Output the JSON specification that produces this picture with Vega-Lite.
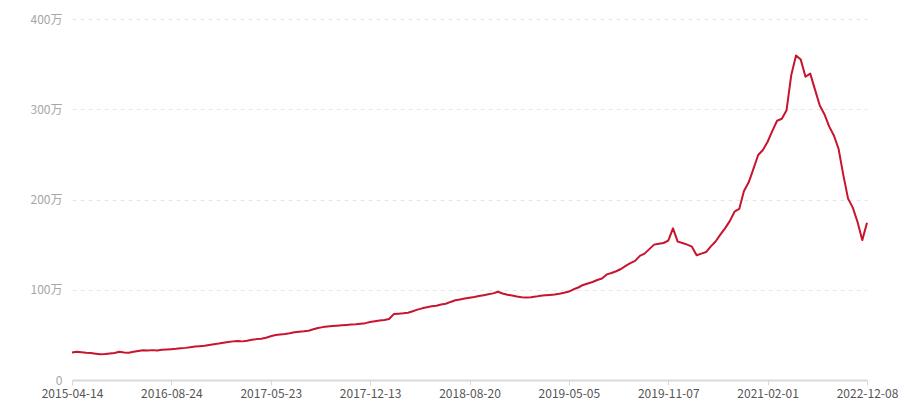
{
  "$schema": "https://vega.github.io/schema/vega-lite/v6.json",
  "autosize": {"type": "none"},
  "padding": {"left": 72, "top": 19, "right": 33, "bottom": 20},
  "width": 795,
  "height": 361,
  "background": "#ffffff",
  "data": {
    "values": [
      {"date": "2015-04-14", "value": 305000},
      {"date": "2015-05-08", "value": 312000},
      {"date": "2015-06-01", "value": 308000},
      {"date": "2015-06-25", "value": 302000},
      {"date": "2015-07-19", "value": 298000},
      {"date": "2015-08-12", "value": 292000},
      {"date": "2015-09-05", "value": 286000},
      {"date": "2015-09-29", "value": 288000},
      {"date": "2015-10-23", "value": 294000},
      {"date": "2015-11-16", "value": 300000},
      {"date": "2015-12-10", "value": 312000},
      {"date": "2016-01-03", "value": 306000},
      {"date": "2016-01-27", "value": 302000},
      {"date": "2016-02-20", "value": 312000},
      {"date": "2016-03-15", "value": 322000},
      {"date": "2016-04-08", "value": 330000},
      {"date": "2016-05-02", "value": 326000},
      {"date": "2016-05-26", "value": 331000},
      {"date": "2016-06-19", "value": 327000},
      {"date": "2016-07-13", "value": 334000},
      {"date": "2016-08-03", "value": 338000},
      {"date": "2016-08-24", "value": 342000},
      {"date": "2016-09-06", "value": 345000},
      {"date": "2016-09-19", "value": 351000},
      {"date": "2016-10-02", "value": 356000},
      {"date": "2016-10-15", "value": 363000},
      {"date": "2016-10-28", "value": 370000},
      {"date": "2016-11-10", "value": 375000},
      {"date": "2016-11-23", "value": 379000},
      {"date": "2016-12-06", "value": 389000},
      {"date": "2016-12-19", "value": 397000},
      {"date": "2017-01-01", "value": 404000},
      {"date": "2017-01-14", "value": 413000},
      {"date": "2017-01-27", "value": 420000},
      {"date": "2017-02-09", "value": 428000},
      {"date": "2017-02-22", "value": 433000},
      {"date": "2017-03-07", "value": 428000},
      {"date": "2017-03-20", "value": 435000},
      {"date": "2017-04-02", "value": 446000},
      {"date": "2017-04-15", "value": 453000},
      {"date": "2017-04-28", "value": 458000},
      {"date": "2017-05-11", "value": 468000},
      {"date": "2017-05-23", "value": 485000},
      {"date": "2017-06-02", "value": 498000},
      {"date": "2017-06-12", "value": 505000},
      {"date": "2017-06-22", "value": 510000},
      {"date": "2017-07-02", "value": 518000},
      {"date": "2017-07-12", "value": 528000},
      {"date": "2017-07-22", "value": 534000},
      {"date": "2017-08-01", "value": 539000},
      {"date": "2017-08-11", "value": 546000},
      {"date": "2017-08-21", "value": 562000},
      {"date": "2017-08-31", "value": 576000},
      {"date": "2017-09-10", "value": 586000},
      {"date": "2017-09-20", "value": 593000},
      {"date": "2017-09-30", "value": 598000},
      {"date": "2017-10-10", "value": 602000},
      {"date": "2017-10-20", "value": 606000},
      {"date": "2017-10-30", "value": 610000},
      {"date": "2017-11-09", "value": 614000},
      {"date": "2017-11-19", "value": 618000},
      {"date": "2017-11-27", "value": 624000},
      {"date": "2017-12-05", "value": 630000},
      {"date": "2017-12-13", "value": 643000},
      {"date": "2017-12-25", "value": 652000},
      {"date": "2018-01-06", "value": 658000},
      {"date": "2018-01-18", "value": 665000},
      {"date": "2018-01-30", "value": 676000},
      {"date": "2018-02-11", "value": 730000},
      {"date": "2018-02-23", "value": 735000},
      {"date": "2018-03-07", "value": 739000},
      {"date": "2018-03-19", "value": 746000},
      {"date": "2018-03-31", "value": 762000},
      {"date": "2018-04-12", "value": 780000},
      {"date": "2018-04-24", "value": 794000},
      {"date": "2018-05-06", "value": 806000},
      {"date": "2018-05-18", "value": 816000},
      {"date": "2018-05-30", "value": 823000},
      {"date": "2018-06-11", "value": 836000},
      {"date": "2018-06-23", "value": 845000},
      {"date": "2018-07-05", "value": 865000},
      {"date": "2018-07-17", "value": 883000},
      {"date": "2018-07-29", "value": 893000},
      {"date": "2018-08-09", "value": 902000},
      {"date": "2018-08-20", "value": 912000},
      {"date": "2018-09-01", "value": 920000},
      {"date": "2018-09-13", "value": 930000},
      {"date": "2018-09-25", "value": 940000},
      {"date": "2018-10-07", "value": 950000},
      {"date": "2018-10-19", "value": 960000},
      {"date": "2018-10-31", "value": 978000},
      {"date": "2018-11-12", "value": 958000},
      {"date": "2018-11-24", "value": 945000},
      {"date": "2018-12-06", "value": 936000},
      {"date": "2018-12-18", "value": 926000},
      {"date": "2018-12-30", "value": 918000},
      {"date": "2019-01-11", "value": 914000},
      {"date": "2019-01-23", "value": 918000},
      {"date": "2019-02-04", "value": 924000},
      {"date": "2019-02-16", "value": 934000},
      {"date": "2019-02-28", "value": 939000},
      {"date": "2019-03-12", "value": 943000},
      {"date": "2019-03-24", "value": 948000},
      {"date": "2019-04-05", "value": 956000},
      {"date": "2019-04-20", "value": 966000},
      {"date": "2019-05-05", "value": 980000},
      {"date": "2019-05-14", "value": 1005000},
      {"date": "2019-05-23", "value": 1025000},
      {"date": "2019-06-01", "value": 1053000},
      {"date": "2019-06-10", "value": 1070000},
      {"date": "2019-06-19", "value": 1086000},
      {"date": "2019-06-28", "value": 1108000},
      {"date": "2019-07-07", "value": 1125000},
      {"date": "2019-07-16", "value": 1170000},
      {"date": "2019-07-25", "value": 1186000},
      {"date": "2019-08-03", "value": 1205000},
      {"date": "2019-08-12", "value": 1230000},
      {"date": "2019-08-21", "value": 1265000},
      {"date": "2019-08-30", "value": 1295000},
      {"date": "2019-09-08", "value": 1320000},
      {"date": "2019-09-17", "value": 1375000},
      {"date": "2019-09-26", "value": 1400000},
      {"date": "2019-10-05", "value": 1450000},
      {"date": "2019-10-14", "value": 1500000},
      {"date": "2019-10-23", "value": 1510000},
      {"date": "2019-10-31", "value": 1518000},
      {"date": "2019-11-07", "value": 1544000},
      {"date": "2019-11-29", "value": 1680000},
      {"date": "2019-12-20", "value": 1533000},
      {"date": "2020-01-11", "value": 1518000},
      {"date": "2020-02-01", "value": 1500000},
      {"date": "2020-02-23", "value": 1477000},
      {"date": "2020-03-15", "value": 1382000},
      {"date": "2020-04-06", "value": 1400000},
      {"date": "2020-04-27", "value": 1418000},
      {"date": "2020-05-19", "value": 1480000},
      {"date": "2020-06-09", "value": 1535000},
      {"date": "2020-07-01", "value": 1610000},
      {"date": "2020-07-22", "value": 1680000},
      {"date": "2020-08-13", "value": 1760000},
      {"date": "2020-09-03", "value": 1865000},
      {"date": "2020-09-25", "value": 1895000},
      {"date": "2020-10-16", "value": 2095000},
      {"date": "2020-11-07", "value": 2190000},
      {"date": "2020-11-28", "value": 2340000},
      {"date": "2020-12-20", "value": 2493000},
      {"date": "2021-01-10", "value": 2548000},
      {"date": "2021-02-01", "value": 2640000},
      {"date": "2021-03-05", "value": 2760000},
      {"date": "2021-04-06", "value": 2873000},
      {"date": "2021-05-08", "value": 2895000},
      {"date": "2021-06-09", "value": 2990000},
      {"date": "2021-07-11", "value": 3380000},
      {"date": "2021-08-12", "value": 3595000},
      {"date": "2021-09-13", "value": 3550000},
      {"date": "2021-10-15", "value": 3360000},
      {"date": "2021-11-16", "value": 3395000},
      {"date": "2021-12-18", "value": 3220000},
      {"date": "2022-01-19", "value": 3045000},
      {"date": "2022-02-20", "value": 2945000},
      {"date": "2022-03-24", "value": 2810000},
      {"date": "2022-04-25", "value": 2710000},
      {"date": "2022-05-27", "value": 2560000},
      {"date": "2022-06-28", "value": 2270000},
      {"date": "2022-07-30", "value": 2010000},
      {"date": "2022-08-31", "value": 1910000},
      {"date": "2022-10-02", "value": 1750000},
      {"date": "2022-11-05", "value": 1550000},
      {"date": "2022-12-08", "value": 1743000}
    ]
  },
  "mark": {"type": "line", "color": "#c8142e", "strokeWidth": 2, "strokeJoin": "round"},
  "encoding": {
    "x": {
      "field": "date",
      "type": "ordinal",
      "sort": null,
      "scale": {"type": "point", "padding": 0},
      "axis": {
        "title": null,
        "values": ["2015-04-14", "2016-08-24", "2017-05-23", "2017-12-13", "2018-08-20", "2019-05-05", "2019-11-07", "2021-02-01", "2022-12-08"],
        "labelAngle": 0,
        "labelColor": "#555555",
        "labelFont": "Noto Sans CJK SC",
        "labelFontSize": 12,
        "labelPadding": 3,
        "domainColor": "#d9d9d9",
        "domainWidth": 2,
        "tickColor": "#d9d9d9",
        "tickSize": 5,
        "grid": false
      }
    },
    "y": {
      "field": "value",
      "type": "quantitative",
      "scale": {"domain": [0, 4000000], "nice": false},
      "axis": {
        "title": null,
        "values": [0, 1000000, 2000000, 3000000, 4000000],
        "labelExpr": "datum.value == 0 ? '0' : (datum.value / 10000) + '万'",
        "labelColor": "#a6a6a6",
        "labelFont": "Noto Sans CJK SC",
        "labelFontSize": 12,
        "labelPadding": 10,
        "domain": false,
        "ticks": false,
        "tickSize": 0,
        "grid": true,
        "gridColor": "#e6e6e6",
        "gridDash": [4, 4],
        "gridWidth": 1
      }
    }
  },
  "config": {
    "view": {"stroke": null}
  }
}
